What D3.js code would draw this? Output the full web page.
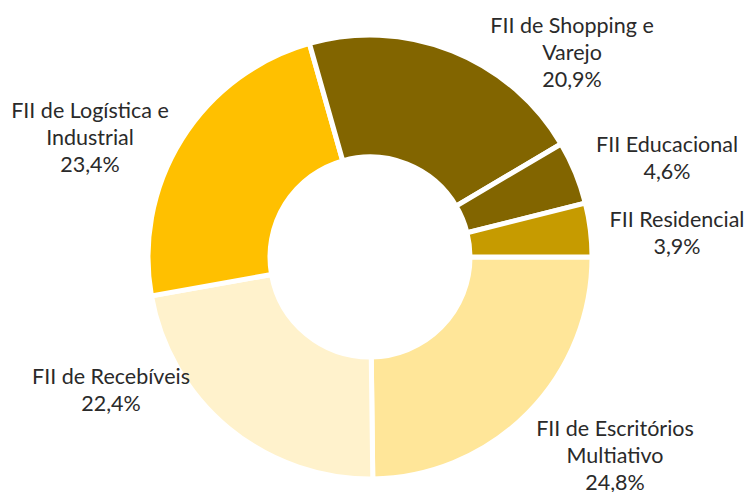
<!DOCTYPE html>
<html>
<head>
<meta charset="utf-8">
<script src="https://cdn.jsdelivr.net/npm/d3@7/dist/d3.min.js"></script>
<style>
  html, body { margin: 0; padding: 0; background: #ffffff; }
  svg { display: block; }
  text { font-family: "Lato", "Open Sans", sans-serif; fill: #2a2a2a; }
</style>
</head>
<body>
<svg id="chart" width="748" height="492"></svg>
<script>
// Segments, drawn clockwise starting at 3 o'clock
const categories = [
  "FII de Escritórios Multiativo",
  "FII de Recebíveis",
  "FII de Logística e Industrial",
  "FII de Shopping e Varejo",
  "FII Educacional",
  "FII Residencial"
];
const shares = [24.8, 22.4, 23.4, 20.9, 4.6, 3.9];
// Label text broken into lines
const labelLines = [
  ["FII de Escritórios", "Multiativo"],
  ["FII de Recebíveis"],
  ["FII de Logística e", "Industrial"],
  ["FII de Shopping e", "Varejo"],
  ["FII Educacional"],
  ["FII Residencial"]
];
const colors = ["#FFE699", "#FFF2CC", "#FFC000", "#826500", "#826500", "#C69B00"];

// Label anchor (centre x, first baseline y) for each segment
const labelPos = [
  { x: 615, y: 436 },
  { x: 111, y: 384 },
  { x: 90,  y: 118 },
  { x: 572, y: 33 },
  { x: 667, y: 152 },
  { x: 677, y: 227 }
];

const W = 748, H = 492;
const cx = 370, cy = 257;
const outerR = 222, innerR = 100;
const lineH = 27;

const svg = d3.select("#chart");
const data = categories.map((c, i) => ({ name: c, value: shares[i], i }));

const pie = d3.pie()
  .value(d => d.value)
  .sort(null)
  .startAngle(Math.PI / 2)
  .endAngle(Math.PI / 2 + 2 * Math.PI);

const arc = d3.arc().innerRadius(innerR).outerRadius(outerR);

const g = svg.append("g").attr("transform", `translate(${cx},${cy})`);
g.selectAll("path")
  .data(pie(data))
  .join("path")
  .attr("d", arc)
  .attr("fill", d => colors[d.data.i])
  .attr("stroke", "#ffffff")
  .attr("stroke-width", 5)
  .attr("stroke-linejoin", "miter");

const fmt = v => v.toFixed(1).replace(".", ",") + "%";

const labels = svg.append("g").selectAll("text")
  .data(data)
  .join("text")
  .attr("text-anchor", "middle")
  .attr("font-size", 21.5)
  .attr("x", d => labelPos[d.i].x)
  .attr("y", d => labelPos[d.i].y);

labels.each(function(d) {
  const t = d3.select(this);
  const lines = labelLines[d.i].concat([fmt(d.value)]);
  lines.forEach((ln, k) => {
    t.append("tspan")
      .attr("x", labelPos[d.i].x)
      .attr("y", labelPos[d.i].y + k * lineH)
      .text(ln);
  });
});
</script>
</body>
</html>
